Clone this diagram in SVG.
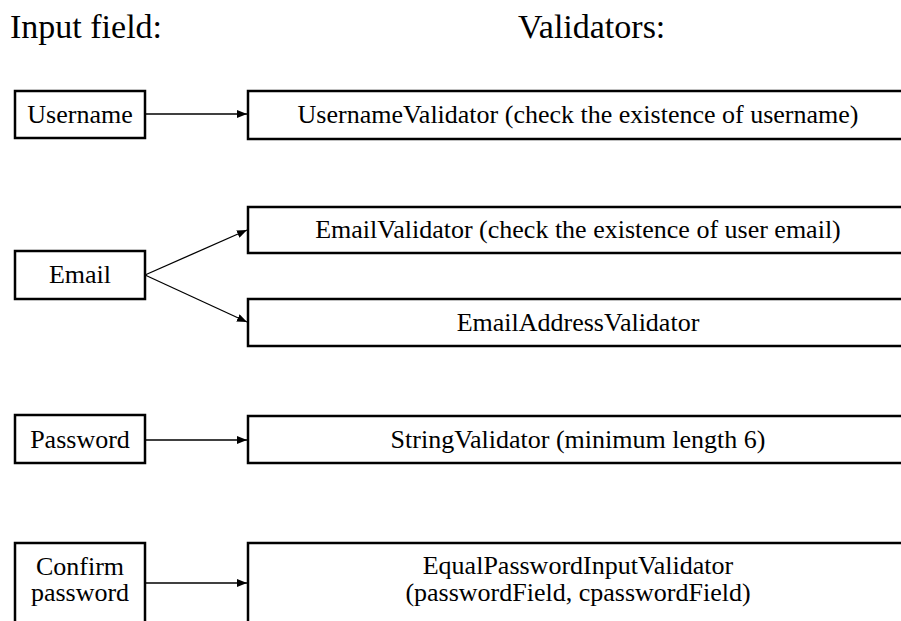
<svg xmlns="http://www.w3.org/2000/svg" width="901" height="621" viewBox="0 0 901 621">
<defs>
<marker id="ah" markerWidth="10" markerHeight="8" refX="10" refY="4" orient="auto" markerUnits="userSpaceOnUse">
<path d="M0,0 L10,4 L0,8 Z" fill="#000"/>
</marker>
<style>
.box{fill:#fff;stroke:#000;stroke-width:2.5}
.t{font-family:"Liberation Serif","Times New Roman",serif;font-size:26px;fill:#000;text-anchor:middle}
.h{font-family:"Liberation Serif","Times New Roman",serif;font-size:34px;fill:#000}
.c{stroke:#000;stroke-width:1.3;fill:none;marker-end:url(#ah)}
</style>
</defs>
<rect width="901" height="621" fill="#fff"/>
<text class="h" x="10" y="38">Input field:</text>
<text class="h" x="518" y="38">Validators:</text>
<g id="username"><rect class="box" x="15" y="91" width="130" height="47"/><text class="t" x="80" y="123">Username</text></g>
<g id="email"><rect class="box" x="15" y="251" width="130" height="48"/><text class="t" x="80" y="283">Email</text></g>
<g id="password"><rect class="box" x="15" y="415" width="130" height="48"/><text class="t" x="80" y="448">Password</text></g>
<g id="confirm"><rect class="box" x="15" y="543" width="130" height="100"/><text class="t" x="80" y="575">Confirm</text><text class="t" x="80" y="601">password</text></g>
<g id="usernameValidator"><rect class="box" x="248" y="91" width="670" height="48"/><text class="t" x="578" y="123">UsernameValidator (check the existence of username)</text></g>
<g id="emailValidator"><rect class="box" x="248" y="207" width="670" height="46"/><text class="t" x="578" y="238">EmailValidator (check the existence of user email)</text></g>
<g id="emailAddressValidator"><rect class="box" x="248" y="299" width="670" height="47"/><text class="t" x="578" y="331">EmailAddressValidator</text></g>
<g id="stringValidator"><rect class="box" x="248" y="416" width="670" height="47"/><text class="t" x="578" y="448">StringValidator (minimum length 6)</text></g>
<g id="equalPasswordValidator"><rect class="box" x="248" y="543" width="670" height="100"/><text class="t" x="578" y="574">EqualPasswordInputValidator</text><text class="t" x="578" y="601">(passwordField, cpasswordField)</text></g>
<g id="connectors">
<line class="c" x1="145" y1="114" x2="247" y2="114"/>
<line class="c" x1="145" y1="275" x2="247" y2="230"/>
<line class="c" x1="145" y1="275" x2="247" y2="322"/>
<line class="c" x1="145" y1="440" x2="247" y2="440"/>
<line class="c" x1="145" y1="583" x2="247" y2="583"/>
</g>
</svg>
